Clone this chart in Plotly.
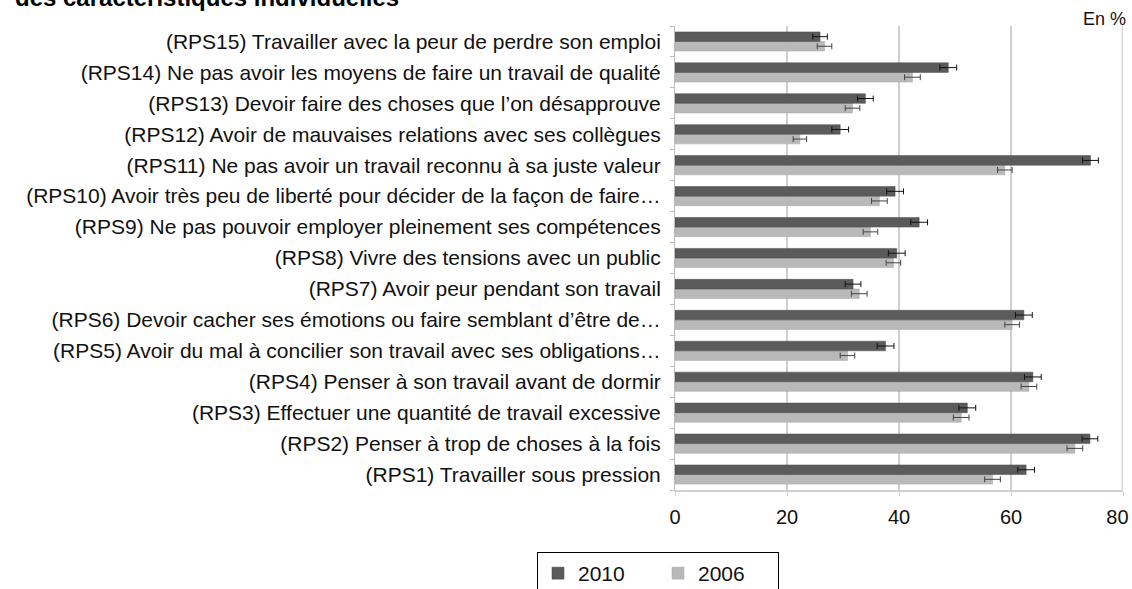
"""Risques psychosociaux 2006 / 2010 — barres horizontales groupées avec intervalles."""

import plotly.graph_objects as go

# Catégories, de bas en haut
labels = [
    "(RPS1) Travailler sous pression",
    "(RPS2) Penser à trop de choses à la fois",
    "(RPS3) Effectuer une quantité de travail excessive",
    "(RPS4) Penser à son travail avant de dormir",
    "(RPS5) Avoir du mal à concilier son travail avec ses obligations…",
    "(RPS6) Devoir cacher ses émotions ou faire semblant d’être de…",
    "(RPS7) Avoir peur pendant son travail",
    "(RPS8) Vivre des tensions avec un public",
    "(RPS9) Ne pas pouvoir employer pleinement ses compétences",
    "(RPS10) Avoir très peu de liberté pour décider de la façon de faire…",
    "(RPS11) Ne pas avoir un travail reconnu à sa juste valeur",
    "(RPS12) Avoir de mauvaises relations avec ses collègues",
    "(RPS13) Devoir faire des choses que l’on désapprouve",
    "(RPS14) Ne pas avoir les moyens de faire un travail de qualité",
    "(RPS15) Travailler avec la peur de perdre son emploi",
]
v2010 = [62.7, 74.1, 52.2, 63.9, 37.6, 62.3, 31.8, 39.6, 43.6, 39.3, 74.2, 29.5, 34.0, 48.8, 25.9]
v2006 = [56.7, 71.4, 51.1, 63.2, 30.8, 60.2, 32.9, 39.0, 34.9, 36.5, 58.9, 22.3, 31.7, 42.4, 26.7]
err2010 = [1.5, 1.4, 1.5, 1.5, 1.5, 1.5, 1.4, 1.5, 1.5, 1.5, 1.4, 1.5, 1.4, 1.5, 1.3]
err2006 = [1.4, 1.4, 1.4, 1.4, 1.3, 1.3, 1.4, 1.3, 1.3, 1.4, 1.3, 1.2, 1.3, 1.4, 1.3]
x_ticks = [0, 20, 40, 60, 80]
# le dernier libellé est décalé vers la gauche pour rester dans l'image
x_ticktext = ["0", "20", "40", "60", "80\u00a0\u00a0"]

FONT = "Liberation Sans, Arial, sans-serif"
W, H = 1132, 589

fig = go.Figure()
# 2006 d'abord : en barres horizontales groupées, la première trace est en bas
fig.add_trace(
    go.Bar(
        x=v2006,
        y=labels,
        name="2006",
        orientation="h",
        marker={"color": "#b9b9b9", "line": {"width": 0.5, "color": "#a5a5a5"}},
        error_x={"type": "data", "array": err2006, "color": "#444", "thickness": 1, "width": 3},
        legendrank=2,
    )
)
fig.add_trace(
    go.Bar(
        x=v2010,
        y=labels,
        name="2010",
        orientation="h",
        marker={"color": "#5b5b5b", "line": {"width": 0.5, "color": "#4a4a4a"}},
        error_x={"type": "data", "array": err2010, "color": "#111", "thickness": 1, "width": 3},
        legendrank=1,
    )
)

# bord droit épais gris clair
fig.add_shape(
    type="line", xref="x", yref="paper", x0=80, x1=80, y0=0, y1=1,
    line={"color": "#dadada", "width": 3},
)

fig.add_annotation(
    text="En %", xref="paper", yref="paper", x=1.0, y=1.0, xanchor="right", yanchor="bottom",
    xshift=5, yshift=-5, showarrow=False, font={"size": 18, "color": "#111", "family": FONT},
)
# titre coupé en haut de l'image
fig.add_annotation(
    text="<b>des caractéristiques individuelles</b>", xref="paper", yref="paper",
    x=0, y=1.0, xanchor="left", yanchor="bottom", xshift=-662, yshift=13,
    showarrow=False, font={"size": 24, "color": "#000", "family": FONT},
)

fig.update_layout(
    barmode="group",
    bargap=0.38,
    bargroupgap=0.0,
    width=W,
    height=H,
    plot_bgcolor="white",
    paper_bgcolor="white",
    font={"family": FONT, "size": 16, "color": "#111"},
    margin={"l": 675, "r": 9, "t": 26, "b": 99, "autoexpand": False},
    xaxis={
        "range": [0, 80],
        "tickvals": x_ticks,
        "ticktext": x_ticktext,
        "showgrid": True,
        "gridcolor": "#cfcfcf",
        "gridwidth": 1.5,
        "zeroline": False,
        "showline": True,
        "linecolor": "#d0d0d0",
        "linewidth": 1.5,
        "ticks": "outside",
        "ticklen": 4,
        "tickcolor": "#d0d0d0",
        "tickfont": {"size": 20, "color": "#111"},
        "ticklabelstandoff": 4,
        "ticklabeloverflow": "allow",
        "fixedrange": True,
    },
    yaxis={
        "showline": True,
        "linecolor": "#bdbdbd",
        "linewidth": 1,
        "ticks": "outside",
        "ticklen": 4,
        "tickcolor": "#bdbdbd",
        "tickson": "boundaries",
        "tickfont": {"size": 21, "color": "#111"},
        "ticklabelstandoff": 9,
        "showgrid": False,
        "fixedrange": True,
    },
    showlegend=True,
    legend={
        "orientation": "h",
        "x": 537 / W,
        "xref": "container",
        "y": 1 - 552 / H,
        "yref": "container",
        "xanchor": "left",
        "yanchor": "top",
        "bordercolor": "#000",
        "borderwidth": 1,
        "font": {"size": 21, "color": "#111"},
        "itemwidth": 30,
        "entrywidthmode": "pixels",
        "entrywidth": 75,
    },
)

# la page n'a pas de marge : le titre coupé reste visible en haut
fig.write_html(
    "out.html",
    config={"displayModeBar": False},
    post_script="document.body.style.margin = '0';",
)
